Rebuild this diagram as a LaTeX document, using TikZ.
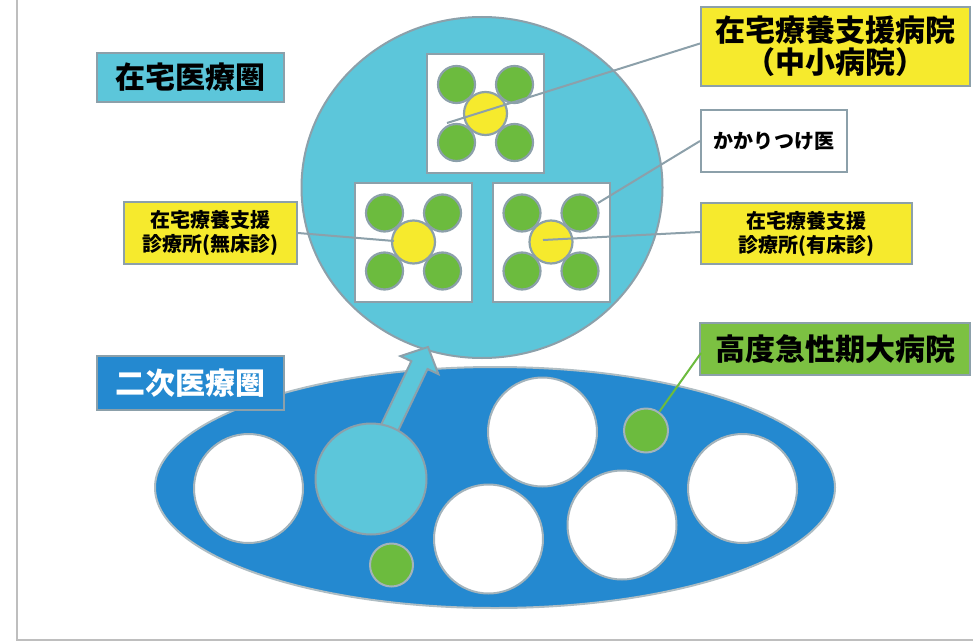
\documentclass[tikz,border=0pt]{standalone}
\usepackage{fontspec}
\setmainfont{Noto Sans CJK JP}
\usetikzlibrary{shapes.geometric}
\definecolor{cyanF}{RGB}{92,198,218}
\definecolor{blueF}{RGB}{36,137,208}
\definecolor{greenF}{RGB}{108,187,62}
\definecolor{greenL}{RGB}{124,193,66}
\definecolor{yellowF}{RGB}{246,234,45}
\definecolor{grayE}{RGB}{140,160,170}
\definecolor{frameG}{RGB}{190,190,190}
\tikzset{
  lbl/.style={draw=grayE, line width=2pt, inner sep=0pt, align=center, font=\bfseries},
  big/.style={font=\bfseries\fontsize{30}{32}\selectfont},
  small/.style={font=\bfseries\fontsize{20}{24}\selectfont},
  sq/.style={draw=grayE, line width=2pt, fill=white, minimum width=117pt, minimum height=119pt, inner sep=0pt},
  gc/.style={circle, draw=grayE, line width=2.2pt, fill=greenF, minimum size=37pt, inner sep=0pt},
  yc/.style={circle, draw=grayE, line width=2.2pt, fill=yellowF, minimum size=43pt, inner sep=0pt},
  wc/.style={circle, draw=grayE!80, line width=2pt, fill=white, minimum size=109pt, inner sep=0pt},
  conn/.style={draw=grayE, line width=2pt},
}
\begin{document}
\begin{tikzpicture}[x=1pt,y=-1pt]
\useasboundingbox (0,0) rectangle (973,642);
% frame
\coordinate (f1) at (17,0);
\coordinate (f2) at (17,640);
\coordinate (f3) at (973,640);
\draw[frameG, line width=1.3pt] (f1) -- (f2) -- (f3);

% home medical care sphere
\node[ellipse, draw=grayE, line width=2pt, fill=cyanF, minimum width=361pt, minimum height=341pt, inner sep=0pt] (home) at (482,187.5) {};

% squares
\foreach \n/\cx/\cy in {T/485.5/113.5, L/413.5/242, R/551/242}{
  \node[sq] (sq\n) at (\cx,\cy) {};
  \node[gc] (g\n1) at (\cx-29,\cy-29) {};
  \node[gc] (g\n2) at (\cx+29,\cy-29) {};
  \node[gc] (g\n3) at (\cx-29,\cy+29) {};
  \node[gc] (g\n4) at (\cx+29,\cy+29) {};
  \node[yc] (y\n) at (\cx,\cy) {};
}

% secondary sphere
\node[ellipse, draw=grayE!70, line width=2pt, fill=blueF, minimum width=680pt, minimum height=241pt, inner sep=0pt] (second) at (495,487.5) {};
\node[wc] (w1) at (248.5,488.5) {};
\node[wc] (w3) at (542.5,432) {};
\node[wc] (w4) at (488.5,539) {};
\node[wc] (w5) at (622,525) {};
\node[wc] (w6) at (742.5,488.5) {};

% block arrow
\coordinate (a1) at (428,347);
\coordinate (a2) at (438.4,374.1);
\coordinate (a3) at (427.5,369.0);
\coordinate (a4) at (395.3,436.7);
\coordinate (a5) at (379.1,428.9);
\coordinate (a6) at (411.3,361.2);
\coordinate (a7) at (400.4,356.1);
\draw[grayE, line width=2pt, fill=cyanF, line join=miter] (a1) -- (a2) -- (a3) -- (a4) -- (a5) -- (a6) -- (a7) -- cycle;
\node[circle, draw=grayE, line width=2pt, fill=cyanF, minimum size=111pt, inner sep=0pt] (w2) at (371,479) {};

\node[circle, draw=grayE!80, line width=2pt, fill=greenF, minimum size=44pt, inner sep=0pt] (sg1) at (646,430.5) {};
\node[circle, draw=grayE!80, line width=2pt, fill=greenF, minimum size=43pt, inner sep=0pt] (sg2) at (391.5,565) {};

% connector end points
\coordinate (eT) at (447,123);
\coordinate (eL) at (394,241);
\coordinate (eR) at (543,240);
\coordinate (eK) at (598,203);

% labels
\node[lbl, fill=cyanF, big, minimum width=187pt, minimum height=49pt] (lhome) at (190.5,77.5) {在宅医療圏};
\node[lbl, fill=yellowF, big, minimum width=269pt, minimum height=79pt] (lhosp) at (835.5,46.5) {在宅療養支援病院\\（中小病院）};
\node[lbl, fill=white, small, minimum width=146pt, minimum height=62pt] (lkaka) at (774,141) {かかりつけ医};
\node[lbl, fill=yellowF, small, minimum width=211pt, minimum height=61pt] (lyu) at (806.5,233.5) {在宅療養支援\\診療所(有床診)};
\node[lbl, fill=yellowF, small, minimum width=173pt, minimum height=62pt] (lmu) at (210.5,233) {在宅療養支援\\診療所(無床診)};
\node[lbl, fill=blueF, text=white, big, minimum width=187pt, minimum height=54pt] (lsec) at (190.5,383) {二次医療圏};
\node[lbl, fill=greenL, big, minimum width=270pt, minimum height=52pt] (lacute) at (835,349) {高度急性期大病院};

% connectors
\draw[conn] ([yshift=3pt]lhosp.west) -- (eT);
\draw[conn] (lkaka.west) -- (eK);
\draw[conn] ([yshift=1.5pt]lyu.west) -- (eR);
\draw[conn] (lmu.east) -- (eL);
\draw[greenF, line width=2pt] ([xshift=2pt,yshift=-4pt]lacute.west) -- (sg1);
\end{tikzpicture}
\end{document}
